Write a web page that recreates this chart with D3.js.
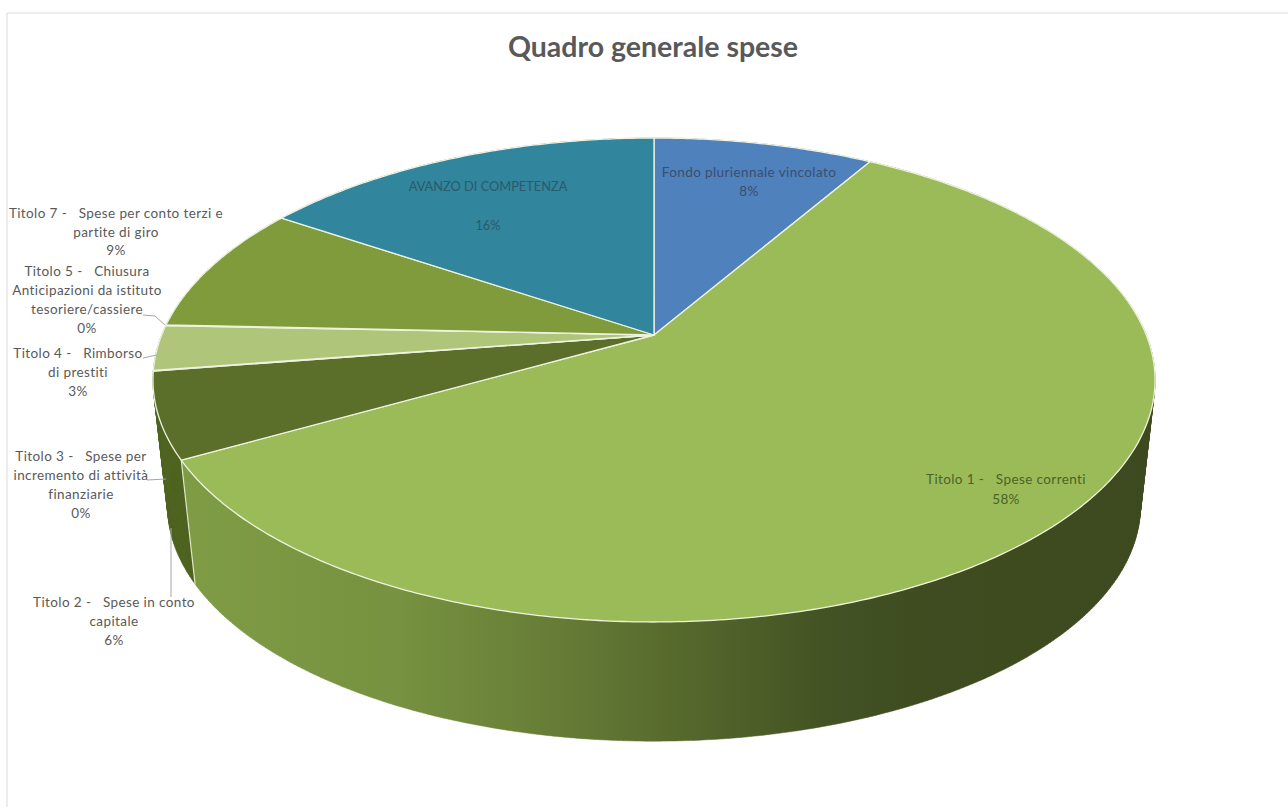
<!DOCTYPE html>
<html>
<head>
  <meta charset="utf-8">
  <title>Quadro generale spese</title>
  <style type="text/css">
    html, body { margin: 0; padding: 0; background: #fff; overflow: hidden; }
    text { font-family: Lato, "Open Sans", sans-serif; }
    .label { text-anchor: middle; white-space: pre; }
    .title { font-size: 28.5px; font-weight: bold; fill: #595959; text-anchor: middle; }
  </style>
</head>
<body>
<script src="https://cdnjs.cloudflare.com/ajax/libs/d3/7.8.5/d3.min.js"></script>
<script>
// data
var chartTitle = 'Quadro generale spese';
var categories = [
  'Fondo pluriennale vincolato',
  'Titolo 1 -   Spese correnti',
  'Titolo 2 -   Spese in conto capitale',
  'Titolo 3 -   Spese per incremento di attività finanziarie',
  'Titolo 4 -   Rimborso di prestiti',
  'Titolo 5 -   Chiusura Anticipazioni da istituto tesoriere/cassiere',
  'Titolo 7 -   Spese per conto terzi e partite di giro',
  'AVANZO DI COMPETENZA'
];
var values = [8.5, 58.4, 5.7, 0.05, 3.0, 0.05, 8.6, 15.7];
var percentLabels = ['8%', '58%', '6%', '0%', '3%', '0%', '9%', '16%'];

// how each label is broken in lines
var labelLines = [
  ['Fondo pluriennale vincolato'],
  ['Titolo 1 -   Spese correnti'],
  ['Titolo 2 -   Spese in conto', 'capitale'],
  ['Titolo 3 -   Spese per', 'incremento di attività', 'finanziarie'],
  ['Titolo 4 -   Rimborso', 'di prestiti'],
  ['Titolo 5 -   Chiusura', 'Anticipazioni da istituto', 'tesoriere/cassiere'],
  ['Titolo 7 -   Spese per conto terzi e', 'partite di giro'],
  ['AVANZO DI COMPETENZA', '']
];

// styles
var topColors = ['#4f81bd', '#9bbb59', '#5b6f2a', '#4f6420', '#afc67a', '#c3d69b', '#7f9b3b', '#31859c'];
var wallColors = ['#3b618e', 'url(#wallGradient)', '#4f6420', '#4f6420', '#4f6420', '#4f6420', '#5f742c', '#256475'];
var labelColors = ['#3a4f6e', '#4b6228', '#595959', '#595959', '#595959', '#595959', '#595959', '#2a5a6c'];
var labelX = [749, 1006, 114, 81, 78, 87, 116, 488];
var labelY = [177, 484, 607, 461, 358, 276, 218, 191];
var lineStep = [19, 20, 19, 19, 19, 19, 18.5, 19.5];
var labelSize = [13.5, 13.5, 13.5, 13.5, 13.5, 13.5, 13.5, 12.8];
var labelSpacing = [0.4, 0.4, 0.4, 0.4, 0.4, 0.4, 0.4, 0];
var leaders = [
  [[171, 528], [171, 597]],
  [[147, 480], [166, 479]],
  [[143, 358], [157, 355]],
  [[143, 315], [155, 316], [165, 325]]
];

var width = 1288, height = 807;

// pie geometry: a flat circle seen in perspective, so the centre sits above the ellipse middle
var cx = 654, cy = 335;
var A = 492.3, B = 233.6, k = 0.186;
var vanishY = 4690, depthScale = 0.9707;

function project(angle, bottom) {
  var u = Math.sin(angle), v = -Math.cos(angle);
  var d = 1 - k * v;
  var x = cx + A * u / d, y = cy + B * v / d;
  if (bottom) {
    x = cx + (x - cx) * depthScale;
    y = vanishY - (vanishY - y) * depthScale;
  }
  return [x, y];
}

function samples(a0, a1, bottom) {
  var n = Math.max(2, Math.ceil((a1 - a0) / 0.01));
  return d3.range(n + 1).map(function(i) {
    return project(a0 + (a1 - a0) * i / n, bottom);
  });
}

var line = d3.line();

// wall as small quads, all turned the same way so the ones past the silhouette do not cancel out
function wallPath(d) {
  var top = samples(d.startAngle, d.endAngle, false);
  var bottom = samples(d.startAngle, d.endAngle, true);
  return d3.range(top.length - 1).map(function(i) {
    var quad = [top[i], top[i + 1], bottom[i + 1], bottom[i]];
    if (d3.polygonArea(quad) < 0) quad.reverse();
    return line(quad) + 'Z';
  }).join('');
}

var pie = d3.pie().sort(null).value(function(d) { return d; });
var slices = pie(values);

var svg = d3.select('body').append('svg')
  .attr('width', width)
  .attr('height', height)
  .style('display', 'block');

// gradient of the big front wall
var gradient = svg.append('defs').append('linearGradient')
  .attr('id', 'wallGradient')
  .attr('gradientUnits', 'userSpaceOnUse')
  .attr('x1', 180).attr('x2', 1155).attr('y1', 0).attr('y2', 0);
gradient.selectAll('stop')
  .data([[0, '#7f9c45'], [0.22, '#779240'], [0.38, '#677d37'], [0.52, '#55682c'], [0.66, '#435324'], [0.76, '#3e4c20'], [1, '#3d4a1f']])
  .enter().append('stop')
  .attr('offset', function(d) { return d[0]; })
  .attr('stop-color', function(d) { return d[1]; });

// chart frame
svg.append('path')
  .attr('d', line([[7, height], [7, 13], [width, 13]]))
  .attr('fill', 'none')
  .attr('stroke', '#d9d9d9')
  .attr('stroke-width', 1);

svg.append('text')
  .attr('class', 'title')
  .attr('x', 653)
  .attr('y', 57)
  .text(chartTitle);

// side walls first, the top face covers what is behind
svg.append('g').selectAll('path')
  .data(slices)
  .enter().append('path')
  .attr('d', wallPath)
  .attr('fill', function(d, i) { return wallColors[i]; })
  .attr('stroke', function(d, i) { return wallColors[i]; })
  .attr('stroke-width', 0.5);

// visible wall edge between Titolo 1 and Titolo 2
svg.append('path')
  .attr('d', function() {
    var a = slices[1].endAngle;
    return line([project(a, false), project(a, true)]);
  })
  .attr('stroke', '#dfe8c8')
  .attr('stroke-width', 1.2)
  .attr('fill', 'none');

// top face
svg.append('g').selectAll('path')
  .data(slices)
  .enter().append('path')
  .attr('d', function(d) {
    return line([[cx, cy]].concat(samples(d.startAngle, d.endAngle, false))) + 'Z';
  })
  .attr('fill', function(d, i) { return topColors[i]; })
  .attr('stroke', '#eef3df')
  .attr('stroke-width', 1.3)
  .attr('stroke-linejoin', 'round');

// leader lines
svg.append('g').selectAll('path')
  .data(leaders)
  .enter().append('path')
  .attr('d', function(d) { return line(d); })
  .attr('fill', 'none')
  .attr('stroke', '#a6a6a6')
  .attr('stroke-width', 1);

// labels, the percent is the last line
var labels = svg.append('g').selectAll('text')
  .data(categories)
  .enter().append('text')
  .attr('class', 'label')
  .attr('font-size', function(d, i) { return labelSize[i]; })
  .attr('letter-spacing', function(d, i) { return labelSpacing[i]; })
  .attr('fill', function(d, i) { return labelColors[i]; });

labels.each(function(d, i) {
  var rows = labelLines[i].concat(percentLabels[i]);
  d3.select(this).selectAll('tspan')
    .data(rows)
    .enter().append('tspan')
    .attr('x', labelX[i])
    .attr('y', function(r, j) { return labelY[i] + j * lineStep[i]; })
    .text(function(r) { return r; });
});
</script>
</body>
</html>
